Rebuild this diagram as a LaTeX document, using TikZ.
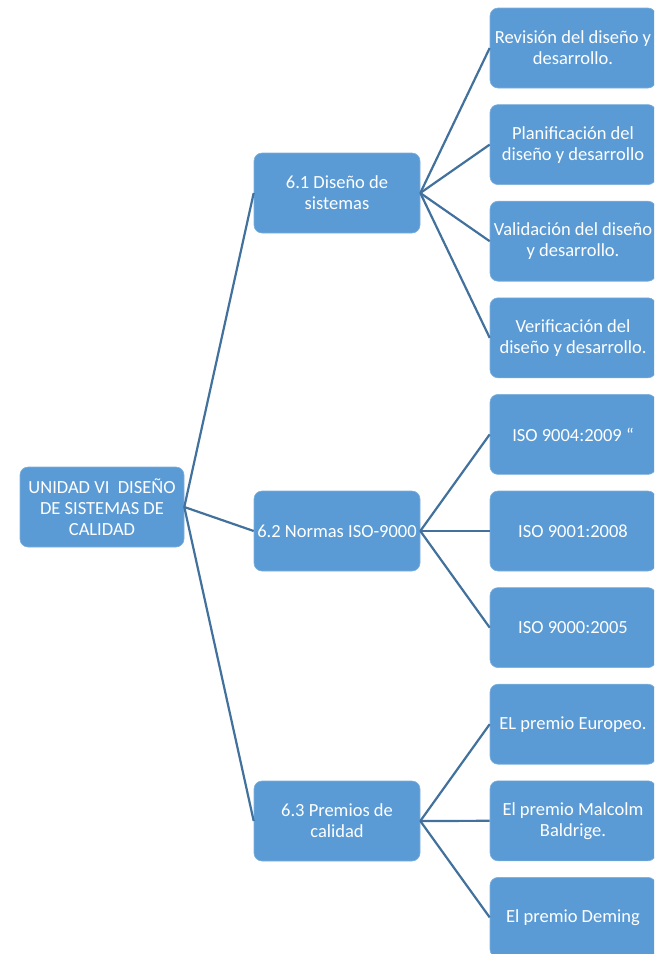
\documentclass[tikz,border=0pt]{standalone}
\usepackage{fontspec}
\setmainfont{Carlito}
\definecolor{boxblue}{HTML}{5B9BD5}
\definecolor{lineblue}{HTML}{41719C}
\begin{document}
\begin{tikzpicture}[x=1pt,y=1pt,
  box/.style={rectangle, rounded corners=8pt, fill=boxblue, draw=boxblue!80!white, line width=0.6pt,
    text=white, align=center, inner sep=0pt, minimum height=80pt,
    font=\fontsize{18.5}{21}\selectfont},
  rootbox/.style={box, minimum width=164pt},
  midbox/.style={box, minimum width=166pt},
  leafbox/.style={box, minimum width=166pt},
  conn/.style={draw=lineblue, line width=2.2pt}]
\useasboundingbox (0,0) rectangle (654,-954);
\clip (0,0) rectangle (654,-954);
% root
\node[rootbox] (root) at (102,-507) {UNIDAD VI\ \ DISEÑO\\DE SISTEMAS DE\\CALIDAD};
% middle level
\node[midbox] (m1) at (337,-193) {6.1 Diseño de\\sistemas};
\node[midbox] (m2) at (337,-531) {6.2 Normas ISO-9000};
\node[midbox] (m3) at (337,-821) {6.3 Premios de\\calidad};
% leaves
\node[leafbox] (l1) at (573,-48) {Revisión del diseño y\\desarrollo.};
\node[leafbox] (l2) at (573,-144.6) {Planificación del\\diseño y desarrollo};
\node[leafbox] (l3) at (573,-241.2) {Validación del diseño\\y desarrollo.};
\node[leafbox] (l4) at (573,-337.8) {Verificación del\\diseño y desarrollo.};
\node[leafbox] (l5) at (573,-434.4) {ISO 9004:2009 “};
\node[leafbox] (l6) at (573,-531) {ISO 9001:2008};
\node[leafbox] (l7) at (573,-627.6) {ISO 9000:2005};
\node[leafbox] (l8) at (573,-724.2) {EL premio Europeo.};
\node[leafbox] (l9) at (573,-820.8) {El premio Malcolm\\Baldrige.};
\node[leafbox] (l10) at (573,-917.4) {El premio Deming};
% connectors
\foreach \m in {m1,m2,m3} \draw[conn] (root.east) -- (\m.west);
\foreach \l in {l1,l2,l3,l4} \draw[conn] (m1.east) -- (\l.west);
\foreach \l in {l5,l6,l7} \draw[conn] (m2.east) -- (\l.west);
\foreach \l in {l8,l9,l10} \draw[conn] (m3.east) -- (\l.west);
\end{tikzpicture}
\end{document}
